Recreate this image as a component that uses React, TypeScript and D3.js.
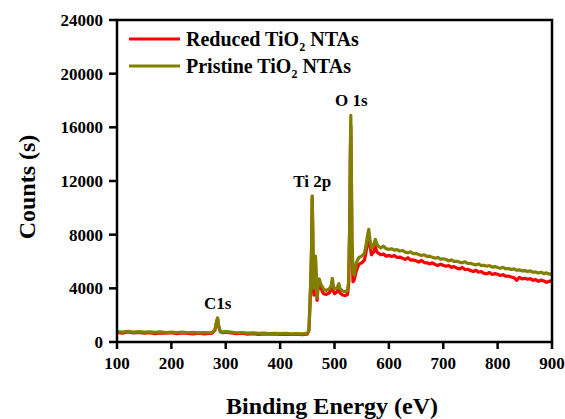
import React from "react";
import * as d3 from "d3";

// Binding energy (eV)
const energy: number[] = [
  100, 110, 120, 130, 140, 150, 160, 170, 180, 190, 200, 210, 220, 230, 240, 250, 260, 270,
  275, 280, 283, 285, 287, 290, 295, 300, 310, 320, 330, 340, 350, 360, 370, 380, 390, 400,
  410, 420, 430, 440, 445, 450, 453, 455, 456, 457, 458, 459, 460, 461, 462, 463, 464, 465,
  466, 467, 468, 470, 472, 475, 478, 480, 485, 490, 494, 496, 498, 500, 505, 508, 510, 515,
  520, 524, 526, 528, 529, 530, 531, 532, 534, 536, 540, 545, 550, 555, 558, 561, 563, 565,
  568, 572, 575, 578, 580, 585, 590, 595, 600, 605, 610, 615, 620, 625, 630, 635, 640, 645,
  650, 655, 660, 665, 670, 675, 680, 685, 690, 695, 700, 705, 710, 715, 720, 725, 730, 735,
  740, 745, 750, 755, 760, 765, 770, 775, 780, 785, 790, 795, 800, 805, 810, 815, 820, 825,
  830, 835, 840, 845, 850, 855, 860, 865, 870, 875, 880, 885, 890, 895, 900,
];

// Reduced TiO2 NTAs counts
const reduced: number[] = [
  720, 660, 750, 680, 710, 650, 690, 630, 680, 650, 690, 620, 670, 640, 610, 650, 610, 640,
  660, 860, 1450, 1750, 1150, 760, 690, 730, 680, 620, 650, 590, 630, 570, 610, 580, 600, 560,
  590, 560, 580, 550, 570, 590, 850, 2900, 4100, 5400, 7400, 10800, 8300, 4700, 3500, 3900, 5300, 6200,
  4900, 3600, 3100, 4200, 4400, 4000, 3750, 3600, 3550, 3650, 3900, 4500, 3800, 3600, 3750, 4050, 3650, 3500,
  3450, 3550, 4200, 8600, 13400, 16100, 12500, 7500, 4500, 4600, 5300, 5800, 5900, 6100, 6700, 7500, 7900, 7200,
  6500, 6700, 7100, 6700, 6650, 6500, 6550, 6400, 6450, 6380, 6450, 6300, 6330, 6250, 6150, 6280, 6100, 6120,
  6050, 5950, 6080, 5920, 5900, 5820, 5900, 5780, 5700, 5800, 5720, 5650, 5700, 5560, 5620, 5500, 5450, 5560,
  5400, 5420, 5330, 5250, 5350, 5200, 5250, 5120, 5080, 5180, 5030, 5100, 5050, 4950, 5020, 4900, 4920, 4850,
  4800, 4600, 4820, 4700, 4750, 4680, 4720, 4600, 4650, 4520, 4620, 4550, 4450, 4520, 4580,
];

// Pristine TiO2 NTAs counts
const pristine: number[] = [
  780, 740, 800, 740, 770, 730, 760, 720, 750, 710, 740, 700, 730, 690, 720, 680, 710, 690,
  720, 900, 1500, 1800, 1200, 800, 740, 780, 740, 690, 700, 660, 680, 640, 660, 630, 650, 620,
  640, 610, 630, 600, 620, 640, 900, 3000, 4200, 5500, 7500, 10900, 8500, 5000, 4000, 4300, 5600, 6400,
  5200, 4000, 3300, 4500, 4700, 4300, 4100, 3900, 3850, 3950, 4200, 4750, 4100, 3950, 4050, 4350, 4000, 3800,
  3750, 3850, 4500, 9000, 14000, 16900, 13000, 8000, 5200, 5000, 5900, 6300, 6400, 6600, 7200, 8000, 8400, 7700,
  7000, 7200, 7650, 7300, 7150, 7000, 7150, 6950, 6900, 6950, 6850, 6880, 6780, 6820, 6700, 6650, 6720, 6580,
  6600, 6520, 6450, 6500, 6380, 6400, 6320, 6250, 6300, 6180, 6200, 6150, 6050, 6120, 6000, 6020, 5950, 5900,
  5980, 5850, 5870, 5800, 5750, 5820, 5700, 5720, 5650, 5700, 5580, 5620, 5550, 5500, 5560, 5450, 5480, 5400,
  5450, 5350, 5380, 5300, 5320, 5250, 5300, 5200, 5220, 5150, 5200, 5100, 5150, 5050, 5100,
];

const xTicks: number[] = [100, 200, 300, 400, 500, 600, 700, 800, 900];
const yTicks: number[] = [0, 4000, 8000, 12000, 16000, 20000, 24000];

const peakLabels: { text: string; e: number; v: number }[] = [
  { text: "C1s", e: 285, v: 1800 },
  { text: "Ti 2p", e: 459, v: 10900 },
  { text: "O 1s", e: 531, v: 16900 },
];

const W = 565;
const H = 419;
const left = 117;
const right = 552;
const top = 20;
const bottom = 342;
const font = "'Liberation Serif', 'Times New Roman', Times, serif";

export default function App() {
  const x = d3.scaleLinear().domain([100, 900]).range([left, right]);
  const y = d3.scaleLinear().domain([0, 24000]).range([bottom, top]);
  const line = d3
    .line<number>()
    .x((_, i) => x(energy[i]))
    .y((d) => y(d));

  return (
    <svg
      width={W}
      height={H}
      style={{ position: "fixed", left: 0, top: 0, background: "#fff" }}
      fontFamily={font}
      fontWeight="bold"
    >
      <rect x={0} y={0} width={W} height={H} fill="#fff" />
      <clipPath id="clip">
        <rect x={left} y={top} width={right - left} height={bottom - top} />
      </clipPath>
      <g clipPath="url(#clip)">
        <path d={line(reduced) || ""} fill="none" stroke="#ff0000" strokeWidth={3.2} strokeLinejoin="round" />
        <path d={line(pristine) || ""} fill="none" stroke="#808000" strokeWidth={3.2} strokeLinejoin="round" />
      </g>
      {/* frame */}
      <rect x={left} y={top} width={right - left} height={bottom - top} fill="none" stroke="#000" strokeWidth={2.5} />
      {/* x ticks */}
      {xTicks.map((t) => (
        <g key={"x" + t}>
          <line x1={x(t)} x2={x(t)} y1={bottom} y2={bottom + 7} stroke="#000" strokeWidth={2.5} />
          <text x={x(t)} y={369} textAnchor="middle" fontSize={17}>
            {t}
          </text>
        </g>
      ))}
      {/* y ticks */}
      {yTicks.map((t) => (
        <g key={"y" + t}>
          <line x1={left - 8} x2={left} y1={y(t)} y2={y(t)} stroke="#000" strokeWidth={2.5} />
          <text x={103} y={y(t) + 6} textAnchor="end" fontSize={17}>
            {t}
          </text>
        </g>
      ))}
      {/* peak labels */}
      {peakLabels.map((p) => (
        <text key={p.text} x={x(p.e)} y={y(p.v) - 9} textAnchor="middle" fontSize={17}>
          {p.text}
        </text>
      ))}
      {/* legend */}
      <line x1={129} x2={180} y1={39} y2={39} stroke="#ff0000" strokeWidth={3} />
      <text x={186} y={45.5} fontSize={20}>
        Reduced TiO<tspan fontSize={12} dy={5}>2</tspan>
        <tspan dy={-5}> NTAs</tspan>
      </text>
      <line x1={129} x2={180} y1={66} y2={66} stroke="#808000" strokeWidth={3} />
      <text x={186} y={73} fontSize={20}>
        Pristine TiO<tspan fontSize={12} dy={5}>2</tspan>
        <tspan dy={-5}> NTAs</tspan>
      </text>
      {/* axis titles */}
      <text x={332} y={414} textAnchor="middle" fontSize={24}>
        Binding Energy (eV)
      </text>
      <text transform="translate(35,187) rotate(-90)" textAnchor="middle" fontSize={24}>
        Counts (s)
      </text>
    </svg>
  );
}
